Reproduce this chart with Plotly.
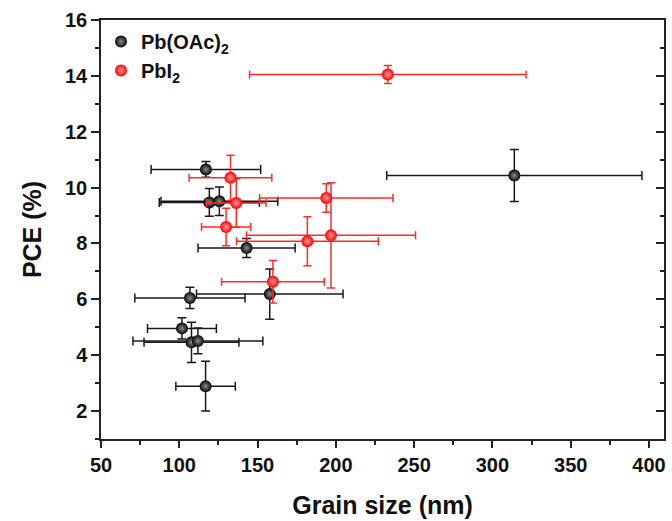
import plotly.graph_objects as go

# Pb(OAc)2 series
pboac_x = [117, 119.2, 125.6, 143, 106.8, 157.8, 101.7, 107.8, 111.9, 116.8, 314]
pboac_y = [10.65, 9.47, 9.51, 7.84, 6.05, 6.19, 4.96, 4.46, 4.51, 2.89, 10.43]
pboac_xerr = [35, 32, 37.3, 31, 35.2, 46.8, 22, 30.3, 41.5, 19, 81.5]
pboac_yerr = [0.28, 0.5, 0.51, 0.34, 0.38, 0.9, 0.38, 0.72, 0.46, 0.89, 0.93]

# PbI2 series
pbi2_x = [233.2, 132.7, 136.4, 129.9, 193.9, 196.9, 181.8, 159.8]
pbi2_y = [14.05, 10.35, 9.45, 8.59, 9.63, 8.29, 8.08, 6.63]
pbi2_xerr = [88.3, 26.4, 19, 15.7, 42.6, 54, 45.3, 32.8]
pbi2_yerr = [0.32, 0.81, 0.87, 0.67, 0.51, 1.88, 0.88, 0.76]

x_ticks = [50, 100, 150, 200, 250, 300, 350, 400]
y_ticks = [2, 4, 6, 8, 10, 12, 14, 16]

FONT = "Liberation Sans"
AX = "#222222"

fig = go.Figure()
fig.add_trace(go.Scatter(
    x=pboac_x, y=pboac_y, mode="markers", name="Pb(OAc)<sub>2</sub>",
    marker=dict(size=12, color="#050505",
                gradient=dict(type="radial", color="#8c8c8c"),
                line=dict(width=0)),
    error_x=dict(type="data", array=pboac_xerr, color="#1a1a1a", thickness=1.5, width=4.5),
    error_y=dict(type="data", array=pboac_yerr, color="#1a1a1a", thickness=1.5, width=4.5),
))
fig.add_trace(go.Scatter(
    x=pbi2_x, y=pbi2_y, mode="markers", name="PbI<sub>2</sub>",
    marker=dict(size=12, color="#ff0000",
                gradient=dict(type="radial", color="#ff9c9c"),
                line=dict(width=0)),
    error_x=dict(type="data", array=pbi2_xerr, color="#ff2a2a", thickness=1.5, width=4),
    error_y=dict(type="data", array=pbi2_yerr, color="#ff2a2a", thickness=1.5, width=4),
))
fig.add_trace(go.Scatter(x=[], y=[], yaxis="y2", showlegend=False, hoverinfo="skip"))

tickfont = dict(family=FONT, size=20, color="#111", weight="bold")
fig.update_layout(
    width=672, height=521, autosize=False,
    margin=dict(l=101, r=6, t=20, b=82),
    paper_bgcolor="white", plot_bgcolor="white",
    showlegend=True,
    legend=dict(x=0.0, y=0.995, xanchor="left", yanchor="top",
                bgcolor="rgba(0,0,0,0)", borderwidth=0,
                font=dict(family=FONT, size=20, color="#111", weight="bold"),
                itemsizing="constant", tracegroupgap=0),
    xaxis=dict(range=[50, 409.6], tickvals=x_ticks, ticks="outside", ticklen=7,
               tickwidth=1.5, tickcolor=AX, showline=True, linecolor=AX, linewidth=1.5,
               mirror=True, showgrid=False, zeroline=False, tickfont=tickfont,
               minor=dict(dtick=25, tick0=50, ticks="outside", ticklen=4, tickcolor=AX, tickwidth=1.5),
               title=dict(text="Grain size (nm)", standoff=22,
                          font=dict(family=FONT, size=25, color="#111", weight="bold"))),
    yaxis=dict(range=[1, 16], tickvals=y_ticks, ticks="outside", ticklen=8,
               tickwidth=1.5, tickcolor=AX, showline=True, linecolor=AX, linewidth=1.5,
               mirror=True, showgrid=False, zeroline=False, tickfont=tickfont,
               minor=dict(dtick=1, tick0=0, ticks="outside", ticklen=4, tickcolor=AX, tickwidth=1.5),
               title=dict(text="PCE (%)", standoff=16,
                          font=dict(family=FONT, size=25, color="#111", weight="bold"))),
    yaxis2=dict(range=[1, 16], overlaying="y", side="right", tickvals=y_ticks,
                ticks="inside", ticklen=8, tickwidth=1.5, tickcolor=AX,
                showticklabels=False, showline=False, showgrid=False, zeroline=False,
                minor=dict(dtick=1, tick0=0, ticks="inside", ticklen=4, tickcolor=AX, tickwidth=1.5)),
)

fig.write_html("out.html")
